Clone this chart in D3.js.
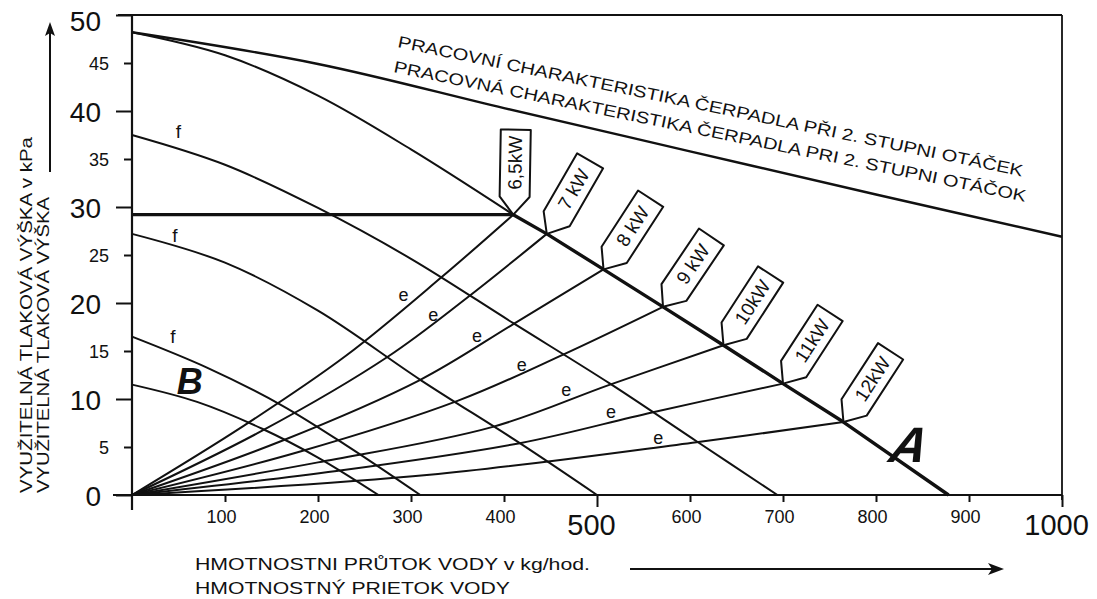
<!DOCTYPE html>
<html><head><meta charset="utf-8">
<script src="https://cdn.jsdelivr.net/npm/d3@7"></script>
<style>
body{margin:0;background:#fff}
svg{display:block}
text{font-family:"Liberation Sans",Arial,Helvetica,sans-serif;fill:#111}
</style>
</head><body>
<svg id="chart" width="1097" height="599"></svg>
<script>
// ---------- data ----------
const xTicks = [100,200,300,400,500,600,700,800,900,1000];
const yTicks = [0,5,10,15,20,25,30,35,40,45,50];

const pumpCurve = [[0,48.2],[200,44.9],[400,40.3],[600,35.8],[800,31.3],[1000,26.9]];
const curveAUpper = [[0,48.2],[100,45.8],[200,41.6],[300,36.0],[410,29.2]];
const curveALower = [[410,29.2],[446,27.2],[507,23.5],[571,19.6],[636,15.6],[700,11.6],[765,7.6],[878,0]];
const workLevel = 29.2;

const fCurve1 = [[0,37.5],[100,34.4],[200,29.9],[300,24.6],[410,17.9],[514,11.6],[607,5.6],[694,0]];
const fCurve2 = [[0,27.2],[100,24.2],[200,19.2],[310,12.0],[417,5.4],[500,0]];
const fCurve3 = [[0,16.5],[80,13.3],[160,9.4],[230,5.2],[310,0]];
const curveB  = [[0,11.5],[70,9.7],[140,6.9],[200,3.9],[265,0]];

const eCurve65 = [[0,0],[120,7.2],[230,14.5],[333,22.7],[410,29.2]];
const eCurve7  = [[0,0],[140,6.7],[275,14.4],[361,20.6],[446,27.2]];
const eCurve8  = [[0,0],[160,5.6],[310,12.0],[410,17.8],[507,23.5]];
const eCurve9  = [[0,0],[180,4.5],[350,9.8],[463,14.6],[571,19.6]];
const eCurve10 = [[0,0],[200,3.4],[388,7.1],[514,11.5],[636,15.6]];
const eCurve11 = [[0,0],[220,2.5],[417,5.4],[559,8.6],[700,11.6]];
const eCurve12 = [[0,0],[320,2.1],[607,5.5],[765,7.6]];
const eCurves = [eCurve65,eCurve7,eCurve8,eCurve9,eCurve10,eCurve11,eCurve12];

const kwLabels = ["6,5kW","7 kW","8 kW","9 kW","10kW","11kW","12kW"];
const kwTilt   = [89,60,57,56,57,57,57];

const eLabelPos = [[292,20.8],[324,18.7],[371,16.6],[419,13.5],[467,10.9],[515,8.6],[566,5.9]];
const fLabelPos = [[50,37.2],[46,26.4],[44,15.8]];
const letterA = [836,5.2];
const letterB = [62,11.8];

const yTitle = ["VYUŽITELNÁ TLAKOVÁ VÝŠKA v kPa","VYUŽITELNÁ TLAKOVÁ VÝŠKA"];
const xTitle = ["HMOTNOSTNI PRŮTOK VODY v kg/hod.","HMOTNOSTNÝ PRIETOK VODY"];
const pumpTitle = ["PRACOVNÍ CHARAKTERISTIKA ČERPADLA PŘI 2. STUPNI OTÁČEK",
                   "PRACOVNÁ CHARAKTERISTIKA ČERPADLA PRI 2. STUPNI OTÁČOK"];

// ---------- drawing ----------
const svg = d3.select("#chart");
const x = d3.scaleLinear().domain([0,1000]).range([132,1062]);
const y = d3.scaleLinear().domain([0,50]).range([495,15]);
const ink = "#111";

const smooth = d3.line().x(d=>x(d[0])).y(d=>y(d[1])).curve(d3.curveCatmullRom.alpha(0.5));
const straight = d3.line().x(d=>x(d[0])).y(d=>y(d[1]));

// frame
svg.append("line").attr("x1",118).attr("x2",x(1000)).attr("y1",y(50)).attr("y2",y(50)).attr("stroke",ink).attr("stroke-width",2.2);
svg.append("line").attr("x1",x(1000)).attr("x2",x(1000)).attr("y1",y(50)).attr("y2",y(0)+5).attr("stroke",ink).attr("stroke-width",1.8);

// y axis
const yAxis = d3.axisLeft(y).tickValues(yTicks).tickSize(8).tickPadding(4).tickFormat(d3.format("d"));
const gy = svg.append("g").attr("transform",`translate(${x(0)},0)`).call(yAxis);
gy.select(".domain").remove();
gy.selectAll(".tick line").attr("stroke",ink).attr("stroke-width",2)
  .attr("x2",d=>d%10===0?-16:-8);
gy.selectAll(".tick text")
  .attr("x",d=>d%10===0?-31:-23)
  .style("font-size",d=>d%10===0?"28px":"18px")
  .attr("dy",d=>d===50?"0.55em":"0.36em");
svg.append("line").attr("x1",x(0)).attr("x2",x(0)).attr("y1",y(50)).attr("y2",y(0)+15).attr("stroke",ink).attr("stroke-width",2.2);

// x axis
const xAxis = d3.axisBottom(x).tickValues(xTicks).tickSize(7).tickFormat(d3.format("d"));
const gx = svg.append("g").attr("transform",`translate(0,${y(0)})`).call(xAxis);
gx.select(".domain").remove();
gx.selectAll(".tick line").attr("stroke",ink).attr("stroke-width",2).attr("y2",d=>d%500===0?12:7);
gx.selectAll(".tick text")
  .attr("dy",0)
  .attr("y",d=>d%500===0?40:28)
  .attr("x",d=>d%500===0?-6:-4)
  .style("font-size",d=>d%500===0?"29px":"18px");
svg.append("line").attr("x1",113).attr("x2",x(1000)).attr("y1",y(0)).attr("y2",y(0)).attr("stroke",ink).attr("stroke-width",2.2);

// curves
const plot = svg.append("g").attr("fill","none").attr("stroke",ink).attr("stroke-linejoin","round");
plot.append("path").attr("d",smooth(pumpCurve)).attr("stroke-width",2.4);
plot.append("path").attr("d",smooth(curveAUpper)).attr("stroke-width",2);
plot.append("path").attr("d",straight(curveALower)).attr("stroke-width",3.4);
plot.append("path").attr("d",straight([[0,workLevel],[curveALower[0][0],workLevel]])).attr("stroke-width",3.2);
[fCurve1,fCurve2,fCurve3,curveB].forEach(c=>plot.append("path").attr("d",smooth(c)).attr("stroke-width",2));
eCurves.forEach(c=>plot.append("path").attr("d",smooth(c)).attr("stroke-width",2));

// kW callouts at curve ends
const box = "M0,0 L18,-14 L85,-14 L85,16 L18,16 Z";
eCurves.forEach((c,i)=>{
  const p = c[c.length-1];
  const g = svg.append("g").attr("transform",`translate(${x(p[0])},${y(p[1])}) rotate(${-kwTilt[i]})`);
  g.append("path").attr("d",box).attr("fill","#fff").attr("stroke",ink).attr("stroke-width",2).attr("stroke-linejoin","round");
  g.append("text").attr("x",52).attr("y",1).attr("text-anchor","middle").attr("dominant-baseline","central")
    .style("font-size","19px").text(kwLabels[i]);
});

// small letters
eLabelPos.forEach(p=>svg.append("text").attr("x",x(p[0])).attr("y",y(p[1])).attr("text-anchor","middle")
  .attr("dominant-baseline","central").style("font-size","18px").text("e"));
fLabelPos.forEach(p=>svg.append("text").attr("x",x(p[0])).attr("y",y(p[1])).attr("text-anchor","middle")
  .style("font-size","19px").text("f"));
svg.append("text").attr("x",x(letterB[0])).attr("y",y(letterB[1])).attr("text-anchor","middle").attr("dominant-baseline","central")
  .style("font-size","36px").style("font-weight","bold").style("font-style","italic").text("B");
svg.append("text").attr("transform",`translate(${x(letterA[0])},${y(letterA[1])}) skewX(-14)`).attr("text-anchor","middle").attr("dominant-baseline","central")
  .style("font-size","50px").style("font-style","italic").style("font-weight","bold").text("A");

// pump characteristic titles
svg.append("text").attr("transform","translate(397,47) rotate(11.7)").attr("textLength",638).attr("lengthAdjust","spacingAndGlyphs")
  .style("font-size","16.5px").text(pumpTitle[0]);
svg.append("text").attr("transform","translate(393,72) rotate(11.6)").attr("textLength",645).attr("lengthAdjust","spacingAndGlyphs")
  .style("font-size","16.5px").text(pumpTitle[1]);

// axis titles
svg.append("text").attr("transform","translate(32,493) rotate(-90)").attr("textLength",356).attr("lengthAdjust","spacingAndGlyphs")
  .style("font-size","17px").text(yTitle[0]);
svg.append("text").attr("transform","translate(49,493) rotate(-90)").attr("textLength",296).attr("lengthAdjust","spacingAndGlyphs")
  .style("font-size","17px").text(yTitle[1]);
svg.append("text").attr("x",195).attr("y",570).attr("textLength",395).attr("lengthAdjust","spacingAndGlyphs")
  .style("font-size","17px").text(xTitle[0]);
svg.append("text").attr("x",195).attr("y",594).attr("textLength",315).attr("lengthAdjust","spacingAndGlyphs")
  .style("font-size","17px").text(xTitle[1]);

// arrows
svg.append("line").attr("x1",50).attr("x2",50).attr("y1",172).attr("y2",32).attr("stroke",ink).attr("stroke-width",2);
svg.append("path").attr("d","M50,22 L45,36 L50,33 L55,36 Z").attr("fill",ink);
svg.append("line").attr("x1",630).attr("x2",995).attr("y1",569).attr("y2",569).attr("stroke",ink).attr("stroke-width",2);
svg.append("path").attr("d","M1004,569 L988,563 L992,569 L988,575 Z").attr("fill",ink);
</script>
</body></html>
